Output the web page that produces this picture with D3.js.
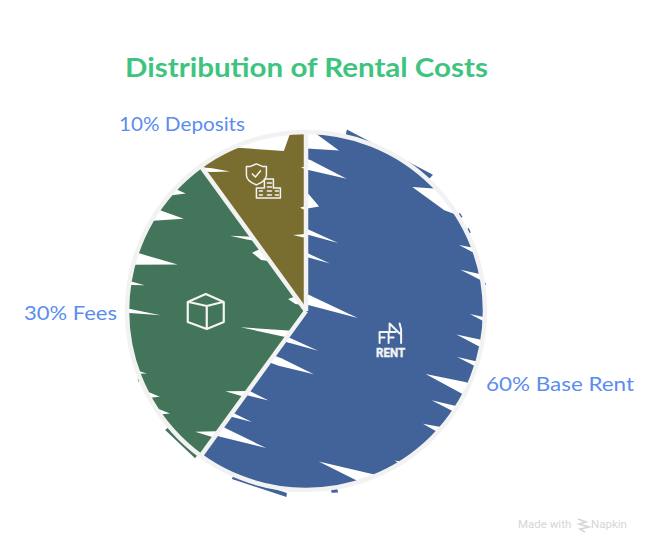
<!DOCTYPE html>
<html>
<head>
<meta charset="utf-8">
<script src="https://cdn.jsdelivr.net/npm/d3@7"></script>
<style>html,body{margin:0;padding:0;background:#fff}svg{display:block}</style>
</head>
<body>
<svg id="chart" width="651" height="552"></svg>
<script>
const categories = ["Base Rent", "Fees", "Deposits"];
const values = [60, 30, 10];
const titleText = "Distribution of Rental Costs";
// rough-fill scratches: [angle deg, radius share, side, length, width]
const rentScratches = [
  [1.3,.956,1,31,18],[1.2,.816,1,40,10],[0,.61,1,14,16],[1.5,.441,1,32,5],[.5,.313,1,25,4],[10,.063,1,53,10],
  [211.8,.19,1,32,5],[207,.32,1,36,8],[215.3,.561,1,22,5],[215,.71,1,20,4],[214.8,.823,1,47,10],
  [52,1.007,-1,38,22],[71,1.016,-1,20,6],[79.4,1.006,-1,24,6],[92.6,.995,-1,15,4],[100.4,.988,-1,25,7],
  [107.3,.995,-1,20,5],[116,.977,-1,40,12],[123.3,.996,-1,25,6],[131.6,1,-1,18,6],[145.2,1.068,-1,22,8],[158,1.03,-1,60,14]
];
const feeScratches = [
  [279,.996,1,15,4],[270,.983,1,31,4],[286.8,1.027,1,48,14],[301.9,1.026,1,34,14],[309.7,1.06,1,26,14],
  [250.4,1.014,1,12,4],[242,1,1,12,6],[235.7,1,1,12,6],
  [204.6,.147,-1,55,8],[212.7,.558,-1,27,8],[213,.832,-1,30,10],[321,.524,-1,17,3],[322.3,.402,-1,10,12],[317.7,.083,-1,8,8]
];
const depositScratches = [
  [353.3,1.001,1,5,36],[326.3,.946,1,18,4],[0,.419,-1,13,4],[0,.575,-1,6,5],[0,.8,-1,5,3]
];
// straight strokes of the rough fill that overshoot the ring: [angle 1, radius share 1, angle 2, radius share 2, thickness]
const rentOvershoot = [[12.7,1.04,43,1.04,5],[57.5,1.02,59,1.02,3],[63,1.02,64.5,1.02,3],[81,1.015,81.8,1.015,2],[170,1.03,172,1.025,4],[203.8,1.026,186,1.045,4]];
const feeOvershoot = [[229.8,1.03,217,1.03,4],[247,1.015,248,1.015,2]];

const colors = ["#426399", "#43755a", "#7a6d30"];
const tilts = [20, 8, 4];
const scratches = [rentScratches, feeScratches, depositScratches];
const overshoots = [rentOvershoot, feeOvershoot, []];

const cx = 306, cy = 311, R = 179, ringColor = "#f2f2f2", labelColor = "#5b8def";
const svg = d3.select("#chart");
const rad = d3.scaleLinear().domain([0, 360]).range([0, 2 * Math.PI]);

svg.append("text").attr("x", 306.5).attr("y", 77)
  .attr("text-anchor", "middle").attr("textLength", 363).attr("lengthAdjust", "spacingAndGlyphs")
  .attr("font-family", "Lato").attr("font-weight", 700).attr("font-size", 26).attr("fill", "#3ec480")
  .text(titleText);

const g = svg.append("g").attr("transform", `translate(${cx},${cy})`);
const pie = d3.pie().sort(null).startAngle(0).endAngle(2 * Math.PI);
const arcs = pie(values);
const arc = d3.arc().innerRadius(0).outerRadius(R);

const defs = svg.append("defs");
arcs.forEach((d, i) => defs.append("clipPath").attr("id", "slice" + i).append("path").attr("d", arc(d)));

arcs.forEach((d, i) => {
  g.append("path").attr("d", arc(d)).attr("fill", colors[i]);
  const layer = g.append("g").attr("clip-path", `url(#slice${i})`);
  const t = tilts[i] * Math.PI / 180;
  const line = d3.line();
  scratches[i].forEach(s => {
    const [bx, by] = d3.pointRadial(rad(s[0]), s[1] * R);
    const ux = s[2] * Math.cos(t), uy = s[2] * Math.sin(t), nx = -uy, ny = ux, w = s[4] / 2, back = 60;
    layer.append("path").attr("fill", "#fff").attr("d", line([
      [bx + ux * s[3], by + uy * s[3]],
      [bx + nx * w, by + ny * w],
      [bx + nx * w - ux * back, by + ny * w - uy * back],
      [bx - nx * w - ux * back, by - ny * w - uy * back],
      [bx - nx * w, by - ny * w]
    ]) + "Z");
  });
  overshoots[i].forEach(o => {
    const p1 = d3.pointRadial(rad(o[0]), o[1] * R), p2 = d3.pointRadial(rad(o[2]), o[3] * R);
    const p3 = d3.pointRadial(rad(o[2]), o[3] * R - o[4]), p4 = d3.pointRadial(rad(o[0]), o[1] * R - o[4]);
    g.append("path").attr("fill", colors[i]).attr("d", d3.line()([p1, p2, p3, p4]) + "Z");
  });
});

g.append("circle").attr("r", R).attr("fill", "none").attr("stroke", ringColor).attr("stroke-width", 4.5);
arcs.forEach(d => {
  const [x, y] = d3.pointRadial(d.startAngle, R);
  g.append("line").attr("x1", 0).attr("y1", 0).attr("x2", x).attr("y2", y)
    .attr("stroke", ringColor).attr("stroke-width", 4.5);
});

// icons
function icon(i, share) {
  const a = (arcs[i].startAngle + arcs[i].endAngle) / 2;
  const [x, y] = d3.pointRadial(a, share * R);
  return g.append("g").attr("transform", `translate(${x},${y})`)
    .attr("fill", "none").attr("stroke", "#f4f4f4").attr("stroke-width", 2)
    .attr("stroke-linecap", "round").attr("stroke-linejoin", "round");
}
const rent = icon(0, .497);
rent.append("path").attr("d", "M-11,4.5V-6.5H-3M-11,-1H-6M-2,4.5V-6.5H5M-2,-1H3M-1,-15L9,-5M-1,-15V-8M9,-15L10.5,-9V4.5");
rent.append("text").attr("x", 0).attr("y", 19).attr("text-anchor", "middle")
  .attr("font-family", "Roboto").attr("font-weight", 700).attr("font-size", 13)
  .attr("fill", "#f4f4f4").attr("stroke", "#f4f4f4").attr("stroke-width", .4)
  .attr("textLength", 29).attr("lengthAdjust", "spacingAndGlyphs").text("RENT");
const box = icon(1, .56);
box.attr("stroke-width", 2.2);
box.append("path").attr("d", "M0,-17L18,-9V11L1,18L-18,11V-9ZM-17,-9L1,-5L17,-9M1,-5V18");
const dep = icon(2, .77);
dep.attr("stroke-width", 1.5);
dep.append("path").attr("d", "M-7,-16L-1,-13.5H3V-5C3,0,-2,3,-7,5C-12,3,-17,0,-17,-5V-13.5H-13Z");
dep.append("path").attr("d", "M-11,-6L-8,-3L-3,-9");
dep.append("path").attr("d", "M-7,18V8H1V-1H10V8H17V18ZM-4,11H-1M-4,15H-1M4,3H8M4,7H8M4,11H8M4,15H8M12,11H15M12,15H15");

// labels
const labelAt = [[486, 391, "start"], [24, 320, "start"], [119, 131, "start"]];
const labelWidth = [148, 93, 126];
arcs.forEach((d, i) => {
  svg.append("text").attr("x", labelAt[i][0]).attr("y", labelAt[i][1]).attr("text-anchor", labelAt[i][2])
    .attr("font-family", "Lato").attr("font-size", 20).attr("fill", labelColor)
    .attr("textLength", labelWidth[i]).attr("lengthAdjust", "spacingAndGlyphs")
    .text(`${d.data}% ${categories[i]}`);
});

// watermark
const mark = svg.append("g").attr("font-family", "Roboto").attr("font-size", 11.5).attr("fill", "#d6d6d6");
mark.append("text").attr("x", 518).attr("y", 528).text("Made with");
mark.append("path").attr("d", "M578,519L586,522L579,524L589,527L580,529L585,532")
  .attr("fill", "none").attr("stroke", "#d6d6d6").attr("stroke-width", 1.6);
mark.append("text").attr("x", 591).attr("y", 528).text("Napkin");
</script>
</body>
</html>
